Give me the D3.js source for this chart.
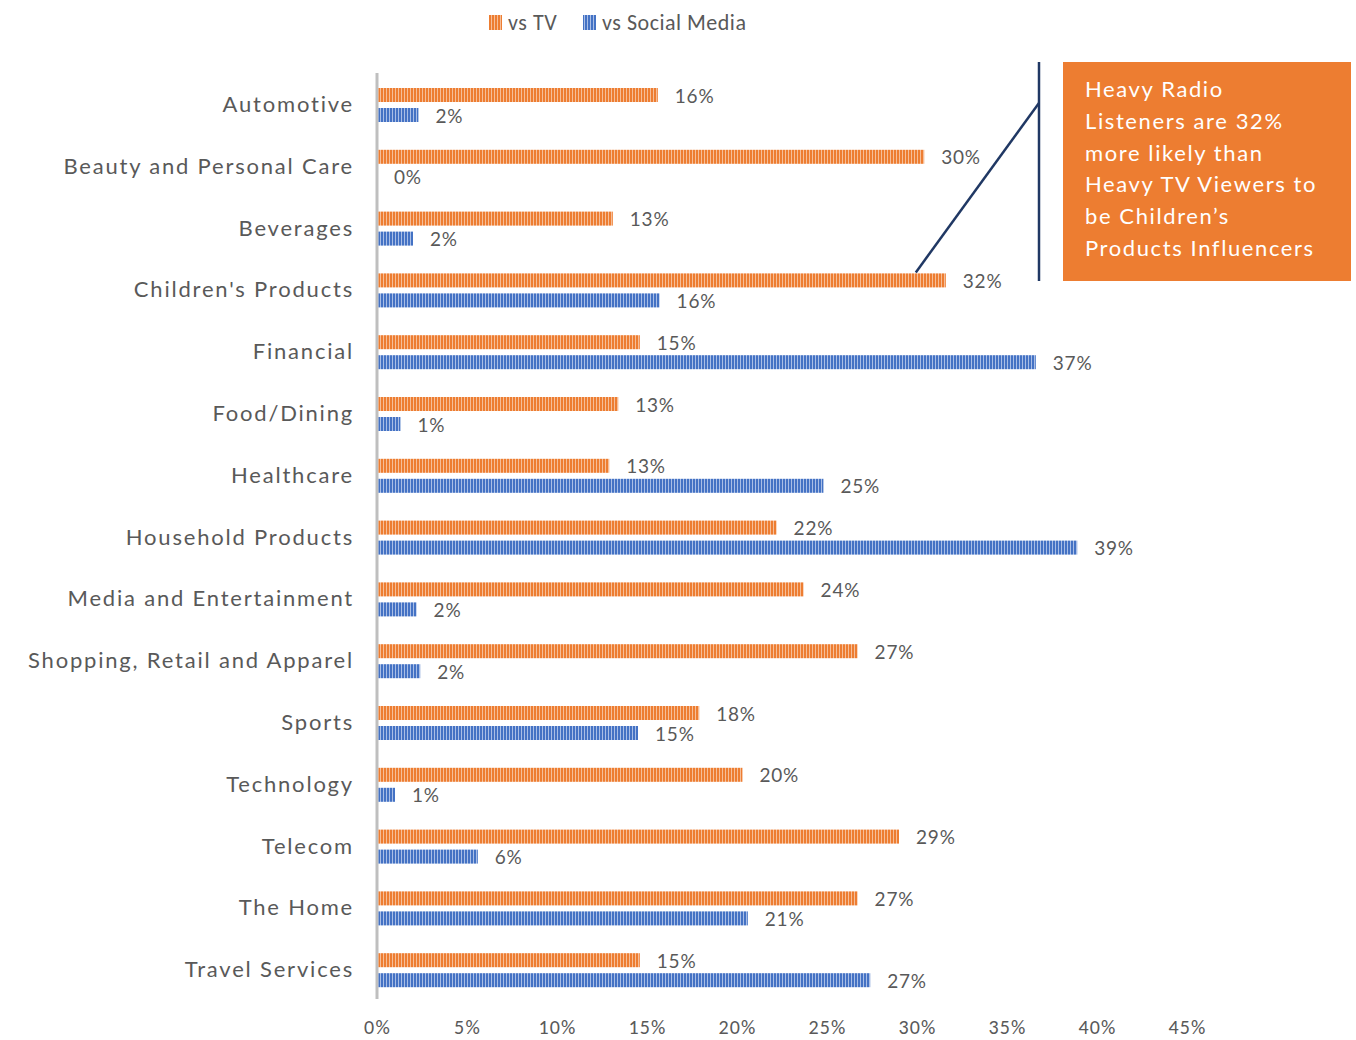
<!DOCTYPE html>
<html>
<head>
<meta charset="utf-8">
<script src="https://cdnjs.cloudflare.com/ajax/libs/d3/7.8.5/d3.min.js"></script>
<style>
  body { margin: 0; background: #fff; }
  svg { display: block; }
</style>
</head>
<body>
<div id="chart"></div>
<script>
// data
var categories = ["Automotive", "Beauty and Personal Care", "Beverages", "Children's Products",
  "Financial", "Food/Dining", "Healthcare", "Household Products", "Media and Entertainment",
  "Shopping, Retail and Apparel", "Sports", "Technology", "Telecom", "The Home", "Travel Services"];
var vsTV     = [15.6, 30.4, 13.1, 31.6, 14.6, 13.4, 12.9, 22.2, 23.7, 26.7, 17.9, 20.3, 29.0, 26.7, 14.6];
var vsSocial = [2.3, 0, 2.0, 15.7, 36.6, 1.3, 24.8, 38.9, 2.2, 2.4, 14.5, 1.0, 5.6, 20.6, 27.4];
var tickValues = [0, 5, 10, 15, 20, 25, 30, 35, 40, 45];
var seriesNames = ["vs TV", "vs Social Media"];
var calloutLines = ["Heavy Radio", "Listeners are 32%", "more likely than",
  "Heavy TV Viewers to", "be Children\u2019s", "Products Influencers"];

var W = 1356, H = 1040;
var gothic = "'Century Gothic', 'URW Gothic', Lato, 'Noto Sans', sans-serif";
var plain  = "Calibri, Carlito, 'Open Sans', 'Noto Sans', sans-serif";
var textCol = "#595959";
var colors = [{ base: "#ED7D31", light: "#F6BE98" }, { base: "#4472C4", light: "#A9BEE6" }];

var svg = d3.select("#chart").append("svg").attr("width", W).attr("height", H);

// striped fills
var defs = svg.append("defs");
colors.forEach(function(c, i){
  var p = defs.append("pattern").attr("id", "stripe" + i)
    .attr("patternUnits", "userSpaceOnUse").attr("width", 3).attr("height", 10);
  p.append("rect").attr("width", 3).attr("height", 10).attr("fill", c.base);
  p.append("rect").attr("x", 2).attr("width", 1).attr("height", 10).attr("fill", c.light);
});

var x = d3.scaleLinear().domain([0, 45]).range([377, 1187]);
var y = d3.scaleBand().domain(categories).range([73, 1000]);
var sub = d3.scaleBand().domain([0, 1]).range([15, 49]).paddingInner(0.3);

// x tick labels (no axis line)
var xAxis = svg.append("g").attr("transform", "translate(0,1000)")
  .call(d3.axisBottom(x).tickValues(tickValues).tickSize(0).tickFormat(function(d){ return d + "%"; }));
xAxis.select(".domain").remove();
xAxis.selectAll("text").attr("dy", 0).attr("y", 34)
  .style("font-family", plain).style("font-size", "20px").style("letter-spacing", "1.2px")
  .attr("fill", textCol);

// category axis
svg.append("line").attr("x1", 377).attr("x2", 377).attr("y1", 73).attr("y2", 999)
  .attr("stroke", "#BFBFBF").attr("stroke-width", 3);
svg.append("g").selectAll("text").data(categories).enter().append("text")
  .attr("x", 354).attr("y", function(d){ return y(d) + y.bandwidth() / 2 + 8; })
  .attr("text-anchor", "end").style("font-family", gothic).style("font-size", "22px")
  .style("letter-spacing", "1.8px")
  .attr("fill", textCol).text(function(d){ return d; });

// bars
var series = [vsTV, vsSocial];
series.forEach(function(vals, s){
  var g = svg.append("g");
  g.selectAll("rect").data(vals).enter().append("rect")
    .attr("x", x(0) + 1.5)
    .attr("y", function(d, i){ return y(categories[i]) + sub(s); })
    .attr("width", function(d){ return Math.max(0, x(d) - x(0) - 1.5); })
    .attr("height", sub.bandwidth())
    .attr("fill", "url(#stripe" + s + ")");
  g.selectAll("text").data(vals).enter().append("text")
    .attr("x", function(d){ return x(d) + 17; })
    .attr("y", function(d, i){ return y(categories[i]) + sub(s) + sub.bandwidth() / 2 + 7.5; })
    .style("font-family", gothic).style("font-size", "19px").style("letter-spacing", "0.8px")
    .attr("fill", textCol)
    .text(function(d){ return Math.round(d) + "%"; });
});

// legend
var legend = svg.append("g");
var lx = [489, 583];
seriesNames.forEach(function(n, i){
  legend.append("rect").attr("x", lx[i]).attr("y", 15).attr("width", 13).attr("height", 15)
    .attr("fill", "url(#stripe" + i + ")");
  legend.append("text").attr("x", lx[i] + 19).attr("y", 30)
    .style("font-family", plain).style("font-size", "22px").style("letter-spacing", "0.5px")
    .attr("fill", textCol).text(n);
});

// callout
var ci = categories.indexOf("Children's Products");
var cx = x(vsTV[ci]) - 30, cy = y(categories[ci]) + sub(0) - 1;
svg.append("line").attr("x1", 1039).attr("x2", 1039).attr("y1", 62).attr("y2", 281)
  .attr("stroke", "#203864").attr("stroke-width", 2.5);
svg.append("line").attr("x1", 1039).attr("y1", 103).attr("x2", cx).attr("y2", cy)
  .attr("stroke", "#203864").attr("stroke-width", 2.5);
svg.append("rect").attr("x", 1063).attr("y", 62).attr("width", 288).attr("height", 219).attr("fill", "#ED7D31");
svg.append("g").selectAll("text").data(calloutLines).enter().append("text")
  .attr("x", 1085).attr("y", function(d, i){ return 97 + i * 31.8; })
  .style("font-family", gothic).style("font-size", "22px").style("letter-spacing", "1.6px")
  .attr("fill", "#fff").text(function(d){ return d; });
</script>
</body>
</html>
